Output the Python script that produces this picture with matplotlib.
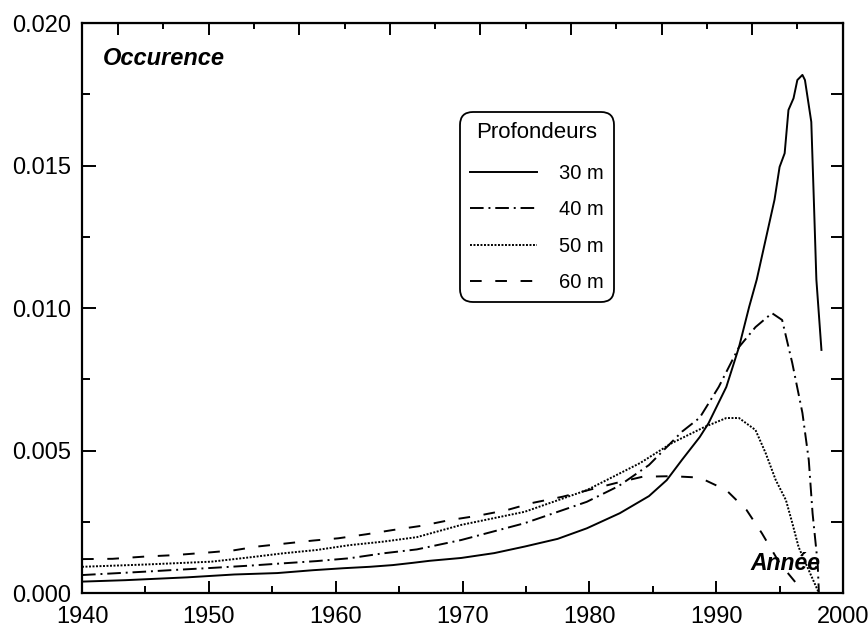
import matplotlib
matplotlib.use("Agg")
import matplotlib.pyplot as plt
from matplotlib.lines import Line2D
from matplotlib.ticker import MultipleLocator, FormatStrFormatter

plt.rcParams["font.family"] = ["Liberation Sans", "DejaVu Sans"]

# values (year, occurence)
years_30 = [1940, 1943.4, 1948.3, 1952.0, 1955.4, 1958.2, 1960.6, 1962.7, 1964.5, 1966.1,
            1967.4, 1969.9, 1972.5, 1974.9, 1977.5, 1979.8, 1982.4, 1984.7, 1986.1, 1987.3,
            1988.7, 1989.4, 1990.8, 1991.8, 1992.6, 1993.2, 1994.0, 1994.6, 1995.0, 1995.4,
            1995.7, 1996.1, 1996.4, 1996.8, 1997.0, 1997.5, 1997.7, 1997.9, 1998.3]
occ_30 = [0.00040, 0.00045, 0.00055, 0.00065, 0.00070, 0.00080, 0.00087, 0.00092, 0.00098, 0.00106,
          0.00113, 0.00123, 0.00140, 0.00163, 0.00190, 0.00227, 0.00280, 0.00340, 0.00396, 0.00467,
          0.00547, 0.00596, 0.00723, 0.00863, 0.01004, 0.01100, 0.01260, 0.01380, 0.01495, 0.01543,
          0.01695, 0.01736, 0.01800, 0.01818, 0.01800, 0.01653, 0.01380, 0.01100, 0.00853]

years_40 = [1940, 1945.0, 1947.3, 1950.2, 1953.2, 1955.8, 1958.5, 1961.1, 1963.7, 1966.4,
            1969.9, 1974.9, 1979.8, 1982.3, 1984.7, 1987.3, 1988.7, 1990.2, 1991.8, 1993.1,
            1994.4, 1995.2, 1996.0, 1996.8, 1997.3, 1997.6, 1998.0, 1998.1]
occ_40 = [0.00063, 0.00075, 0.00081, 0.00088, 0.00096, 0.00104, 0.00112, 0.00122, 0.00139, 0.00153,
          0.00186, 0.00245, 0.00320, 0.00375, 0.00449, 0.00566, 0.00615, 0.00723, 0.00863, 0.00933,
          0.00982, 0.00958, 0.00807, 0.00632, 0.00467, 0.00280, 0.00105, 0.0]

years_50 = [1940, 1945.0, 1950.2, 1953.2, 1955.8, 1958.5, 1961.1, 1963.7, 1966.4, 1969.9,
            1974.9, 1979.8, 1984.0, 1986.5, 1989.1, 1990.8, 1991.8, 1993.1, 1993.9, 1994.7,
            1995.5, 1996.0, 1996.5, 1997.3, 1998.1]
occ_50 = [0.00092, 0.00100, 0.00110, 0.00125, 0.00139, 0.00151, 0.00168, 0.00180, 0.00196, 0.00239,
          0.00285, 0.00361, 0.00456, 0.00526, 0.00583, 0.00614, 0.00614, 0.00572, 0.00491, 0.00396,
          0.00326, 0.00246, 0.00161, 0.00080, 0.0]

years_60 = [1940, 1942.4, 1945.0, 1947.3, 1950.2, 1952.0, 1953.8, 1956.1, 1958.2, 1960.2,
            1962.4, 1964.5, 1966.8, 1969.0, 1971.2, 1973.5, 1975.5, 1977.9, 1982.1, 1984.2,
            1986.5, 1988.7, 1990.8, 1992.4, 1993.6, 1995.0, 1996.3, 1996.6]
occ_60 = [0.00119, 0.00120, 0.00128, 0.00133, 0.00143, 0.00150, 0.00163, 0.00174, 0.00184, 0.00192,
          0.00206, 0.00221, 0.00236, 0.00256, 0.00271, 0.00291, 0.00316, 0.00338, 0.00386, 0.00408,
          0.00410, 0.00405, 0.00361, 0.00291, 0.00210, 0.00105, 0.00035, 0.00010]

labels = ["30 m", "40 m", "50 m", "60 m"]
styles = ["-", (0, (7, 2.5, 1, 2.5)), (0, (1, 0.8)), (0, (6, 7))]

fig = plt.figure(figsize=(8.68, 6.31), dpi=100)
ax = fig.add_axes([0.0945, 0.0602, 0.8767, 0.9033])

series = [(years_30, occ_30), (years_40, occ_40), (years_50, occ_50), (years_60, occ_60)]
lw = 1.4
for (x, y), ls in zip(series, styles):
    ax.plot(x, y, color="black", linestyle=ls, linewidth=lw)

ax.set_xlim(1940, 2000)
ax.set_ylim(0, 0.020)

for s in ax.spines.values():
    s.set_linewidth(1.6)

ax.xaxis.set_major_locator(MultipleLocator(10))
ax.xaxis.set_minor_locator(MultipleLocator(5))
ax.yaxis.set_major_locator(MultipleLocator(0.005))
ax.yaxis.set_minor_locator(MultipleLocator(0.0025))
ax.yaxis.set_major_formatter(FormatStrFormatter("%.3f"))

ax.tick_params(axis="both", which="both", direction="in", labelsize=17, width=1.4)
ax.tick_params(axis="x", which="major", length=8.5, pad=9)
ax.tick_params(axis="x", which="minor", length=5)
ax.tick_params(axis="y", which="major", length=10, pad=8)
ax.tick_params(axis="y", which="minor", length=5.5)

# right axis: ticks every 0.0025, no labels
right = ax.secondary_yaxis("right")
right.set_yticks([0.0025 * i for i in range(1, 8)])
right.tick_params(direction="in", length=8.5, width=1.4, labelright=False)

# top axis: unlabelled ticks on its own scale
t0, step = 1942.84, 50 / 7
top = ax.secondary_xaxis("top", functions=(lambda v: (v - t0) / step, lambda u: u * step + t0))
top.xaxis.set_major_locator(MultipleLocator(1))
top.xaxis.set_minor_locator(MultipleLocator(0.5))
top.tick_params(which="major", direction="in", length=8.5, width=1.4, labeltop=False)
top.tick_params(which="minor", direction="in", length=4.5, width=1.4)

ax.text(0.028, 0.938, "Occurence", transform=ax.transAxes, fontsize=17,
        fontweight="bold", fontstyle="italic", va="center", ha="left")
ax.text(0.925, 0.052, "Année", transform=ax.transAxes, fontsize=16.5,
        fontweight="bold", fontstyle="italic", va="center", ha="center")

fs = 14.5
lspace = 0.86
handles = [Line2D([], [], color="black", linestyle=ls, linewidth=lw) for ls in styles]
leg = ax.legend(handles, labels, title="Profondeurs", loc="upper left",
                bbox_to_anchor=(0.4967, 0.8439), borderaxespad=0, fontsize=fs,
                title_fontsize=16, handlelength=3.35, handletextpad=1.1,
                labelspacing=lspace, borderpad=0.48, fancybox=True, framealpha=1,
                edgecolor="black")
leg._legend_box.sep = lspace * fs + 3
leg.get_frame().set_boxstyle("round,pad=0,rounding_size=0.65")
leg.get_frame().set_linewidth(1.3)

fig.savefig("out.png", dpi=100)
